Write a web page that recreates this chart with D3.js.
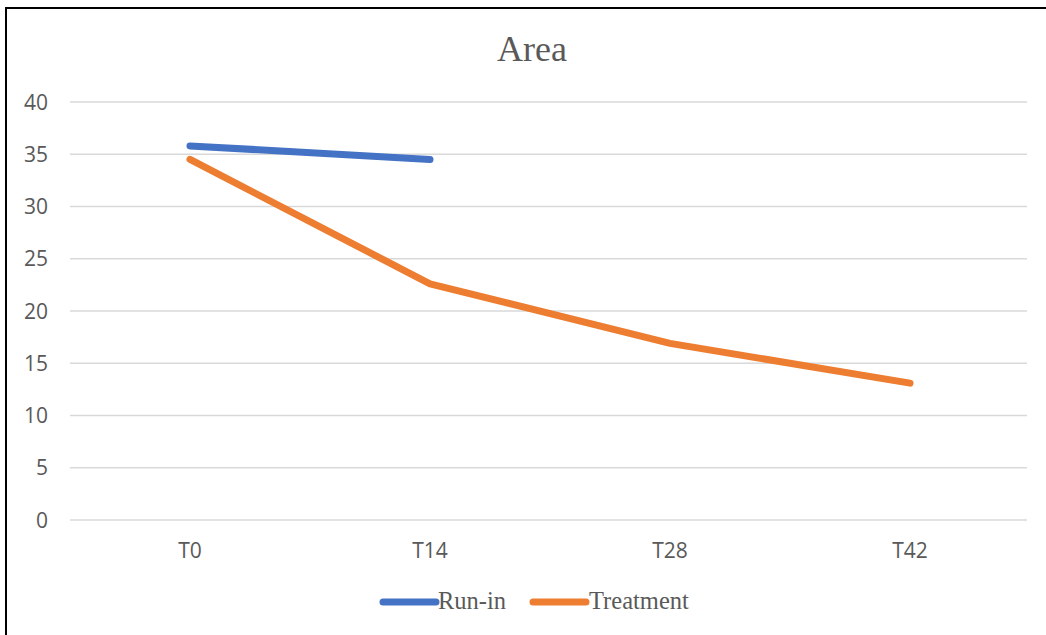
<!DOCTYPE html>
<html><head><meta charset="utf-8">
<script src="https://cdn.jsdelivr.net/npm/d3@7"></script>
<style>body{margin:0;background:#fff;} svg{display:block;}</style>
</head><body>
<svg id="c" width="1046" height="635"></svg>
<script>
const categories = ["T0", "T14", "T28", "T42"];
const runIn = [35.8, 34.5, null, null];
const treatment = [34.5, 22.6, 16.9, 13.1];
const yTicks = [0, 5, 10, 15, 20, 25, 30, 35, 40];
const seriesNames = ["Run-in", "Treatment"];
const colors = ["#4472C4", "#ED7D31"];

const svg = d3.select("#c");
svg.append("rect").attr("x", 6).attr("y", 8).attr("width", 1100).attr("height", 700)
  .attr("fill", "#fff").attr("stroke", "#000").attr("stroke-width", 2);

const x = d3.scaleBand().domain(categories).range([70, 1030]);
const y = d3.scaleLinear().domain([0, 40]).range([520, 102]);

// gridlines
svg.append("g").selectAll("line").data(yTicks).join("line")
  .attr("x1", 70).attr("x2", 1027)
  .attr("y1", d => y(d)).attr("y2", d => y(d))
  .attr("stroke", "#d9d9d9").attr("stroke-width", 1.5);

const tickFont = "'Open Sans', sans-serif";
// y labels
svg.append("g").selectAll("text").data(yTicks).join("text")
  .attr("x", 48).attr("y", d => y(d)).attr("dy", "0.36em")
  .attr("text-anchor", "end")
  .attr("font-family", tickFont).attr("font-size", 21)
  .attr("fill", "#595959").text(d => d);

// x labels
svg.append("g").selectAll("text").data(categories).join("text")
  .attr("x", d => x(d) + x.bandwidth() / 2).attr("y", 558)
  .attr("text-anchor", "middle")
  .attr("font-family", tickFont).attr("font-size", 21)
  .attr("fill", "#595959").text(d => d);

// title
svg.append("text").attr("x", 532).attr("y", 61).attr("text-anchor", "middle")
  .attr("font-family", "'Liberation Serif', 'Times New Roman', serif").attr("font-size", 36)
  .attr("fill", "#595959").text("Area");

const line = d3.line()
  .defined(d => d.v != null)
  .x(d => x(d.c) + x.bandwidth() / 2)
  .y(d => y(d.v));

[runIn, treatment].forEach((vals, i) => {
  const data = categories.map((c, j) => ({c, v: vals[j]}));
  svg.append("path").datum(data).attr("d", line)
    .attr("fill", "none").attr("stroke", colors[i]).attr("stroke-width", 7)
    .attr("stroke-linecap", "round").attr("stroke-linejoin", "round");
});

// legend
const leg = [{x0: 383, tx: 438}, {x0: 533, tx: 589}];
seriesNames.forEach((n, i) => {
  svg.append("line").attr("x1", leg[i].x0).attr("x2", leg[i].x0 + 53)
    .attr("y1", 602).attr("y2", 602)
    .attr("stroke", colors[i]).attr("stroke-width", 7).attr("stroke-linecap", "round");
  svg.append("text").attr("x", leg[i].tx).attr("y", 609)
    .attr("font-family", "'Liberation Serif', 'Times New Roman', serif").attr("font-size", 24.5)
    .attr("fill", "#595959").text(n);
});
</script>
</body></html>
